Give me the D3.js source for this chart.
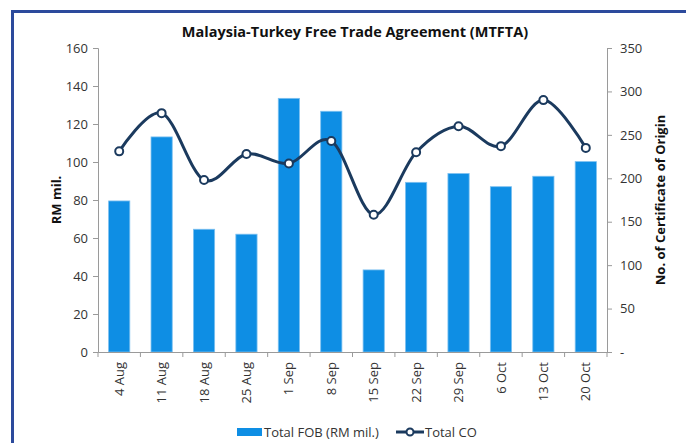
<!DOCTYPE html>
<html lang="en">
<head>
<meta charset="utf-8">
<script src="https://cdnjs.cloudflare.com/ajax/libs/d3/7.8.5/d3.min.js"></script>
<title>MTFTA</title>
<style>
body { margin: 0; background: #fff; }
svg { display: block; font-family: 'Open Sans', sans-serif; }
</style>
</head>
<body>
<svg width="686" height="443"></svg>
<script>
// data
var weeks = ["4 Aug","11 Aug","18 Aug","25 Aug","1 Sep","8 Sep","15 Sep","22 Sep","29 Sep","6 Oct","13 Oct","20 Oct"];
var fob = [79.5, 113.2, 64.6, 62.0, 133.5, 126.7, 43.2, 89.3, 93.9, 87.0, 92.5, 100.2];
var co = [231, 275, 198, 228, 217, 243, 158, 230, 260, 237, 290, 235];
var leftTicks = [0,20,40,60,80,100,120,140,160];
var rightTicks = [0,50,100,150,200,250,300,350];

var plotL = 98, plotR = 607, plotT = 48, plotB = 352;
var fontF = "'Open Sans', sans-serif";

var svg = d3.select("svg");

// frame
svg.append("path")
.attr("d","M12.5,450 L12.5,11.5 L700,11.5")
.attr("fill","none")
.attr("stroke","#2c4a9c")
.attr("stroke-width",3);

var x = d3.scaleBand().domain(weeks).range([plotL,plotR]).paddingInner(0.5).paddingOuter(0.25);
var xb = d3.scaleBand().domain(weeks).range([plotL,plotR]);
var y = d3.scaleLinear().domain([0,160]).range([plotB,plotT]);
var y2 = d3.scaleLinear().domain([0,350]).range([plotB,plotT]);

// bars
svg.selectAll(".bar")
.data(fob).enter()
.append("rect")
.attr("x",function(d,i){return x(weeks[i])})
.attr("y",function(d){return y(d)})
.attr("width",x.bandwidth())
.attr("height",function(d){return plotB-y(d)})
.attr("fill","#0e8ee4")
.attr("stroke","#7cc0f0")
.attr("stroke-width",0.8);

// axes
var axL = svg.append("g").attr("transform","translate("+plotL+",0)")
.call(d3.axisLeft(y).tickValues(leftTicks).tickSize(5).tickPadding(5));
var axR = svg.append("g").attr("transform","translate("+plotR+",0)")
.call(d3.axisRight(y2).tickValues(rightTicks).tickSize(5).tickPadding(8)
  .tickFormat(function(d){return d==0 ? "-" : d}));
var axB = svg.append("g").attr("transform","translate(0,"+plotB+")")
.call(d3.axisBottom(xb).tickSize(0).tickPadding(10));

[axL,axR,axB].forEach(function(a){
  a.select(".domain").attr("stroke","#9a9a9a");
  a.selectAll(".tick line").attr("stroke","#9a9a9a");
  a.selectAll("text").attr("fill","#333").attr("font-size",13).attr("font-family",fontF);
});
axB.selectAll(".tick text")
.attr("transform","rotate(-90)")
.attr("text-anchor","end")
.attr("dy","0.35em")
.attr("x",-10)
.attr("y",0);

// band boundary ticks on x-axis
svg.selectAll(".xt")
.data(weeks.concat([""])).enter()
.append("line")
.attr("x1",function(d,i){return plotL+i*xb.step()})
.attr("x2",function(d,i){return plotL+i*xb.step()})
.attr("y1",plotB).attr("y2",plotB+5)
.attr("stroke","#9a9a9a");

// line
var line = d3.line()
.x(function(d,i){return xb(weeks[i])+xb.bandwidth()/2})
.y(function(d){return y2(d)})
.curve(d3.curveCardinal.tension(0));

svg.append("path")
.datum(co)
.attr("d",line)
.attr("fill","none")
.attr("stroke","#1b3a5e")
.attr("stroke-width",3);

svg.selectAll(".dot")
.data(co).enter()
.append("circle")
.attr("cx",function(d,i){return xb(weeks[i])+xb.bandwidth()/2})
.attr("cy",function(d){return y2(d)})
.attr("r",4)
.attr("fill","#fff")
.attr("stroke","#1b3a5e")
.attr("stroke-width",2);

// titles
svg.append("text")
.attr("x",355).attr("y",37)
.attr("text-anchor","middle")
.attr("font-weight",700).attr("font-size",14.5)
.attr("fill","#111")
.text("Malaysia-Turkey Free Trade Agreement (MTFTA)");

svg.append("text")
.attr("transform","translate(61,200) rotate(-90)")
.attr("text-anchor","middle")
.attr("font-weight",700).attr("font-size",13)
.attr("fill","#111")
.text("RM mil.");

svg.append("text")
.attr("transform","translate(665,200) rotate(-90)")
.attr("text-anchor","middle")
.attr("font-weight",700).attr("font-size",13)
.attr("fill","#111")
.text("No. of Certificate of Origin");

// legend
svg.append("rect")
.attr("x",237).attr("y",428).attr("width",25).attr("height",8)
.attr("fill","#0e8ee4");
svg.append("text")
.attr("x",264).attr("y",437)
.attr("font-size",13).attr("fill","#333")
.text("Total FOB (RM mil.)");
svg.append("line")
.attr("x1",396).attr("x2",424).attr("y1",432).attr("y2",432)
.attr("stroke","#1b3a5e").attr("stroke-width",3);
svg.append("circle")
.attr("cx",410).attr("cy",432).attr("r",3.5)
.attr("fill","#fff").attr("stroke","#1b3a5e").attr("stroke-width",2);
svg.append("text")
.attr("x",425).attr("y",437)
.attr("font-size",13).attr("fill","#333")
.text("Total CO");
</script>
</body>
</html>
